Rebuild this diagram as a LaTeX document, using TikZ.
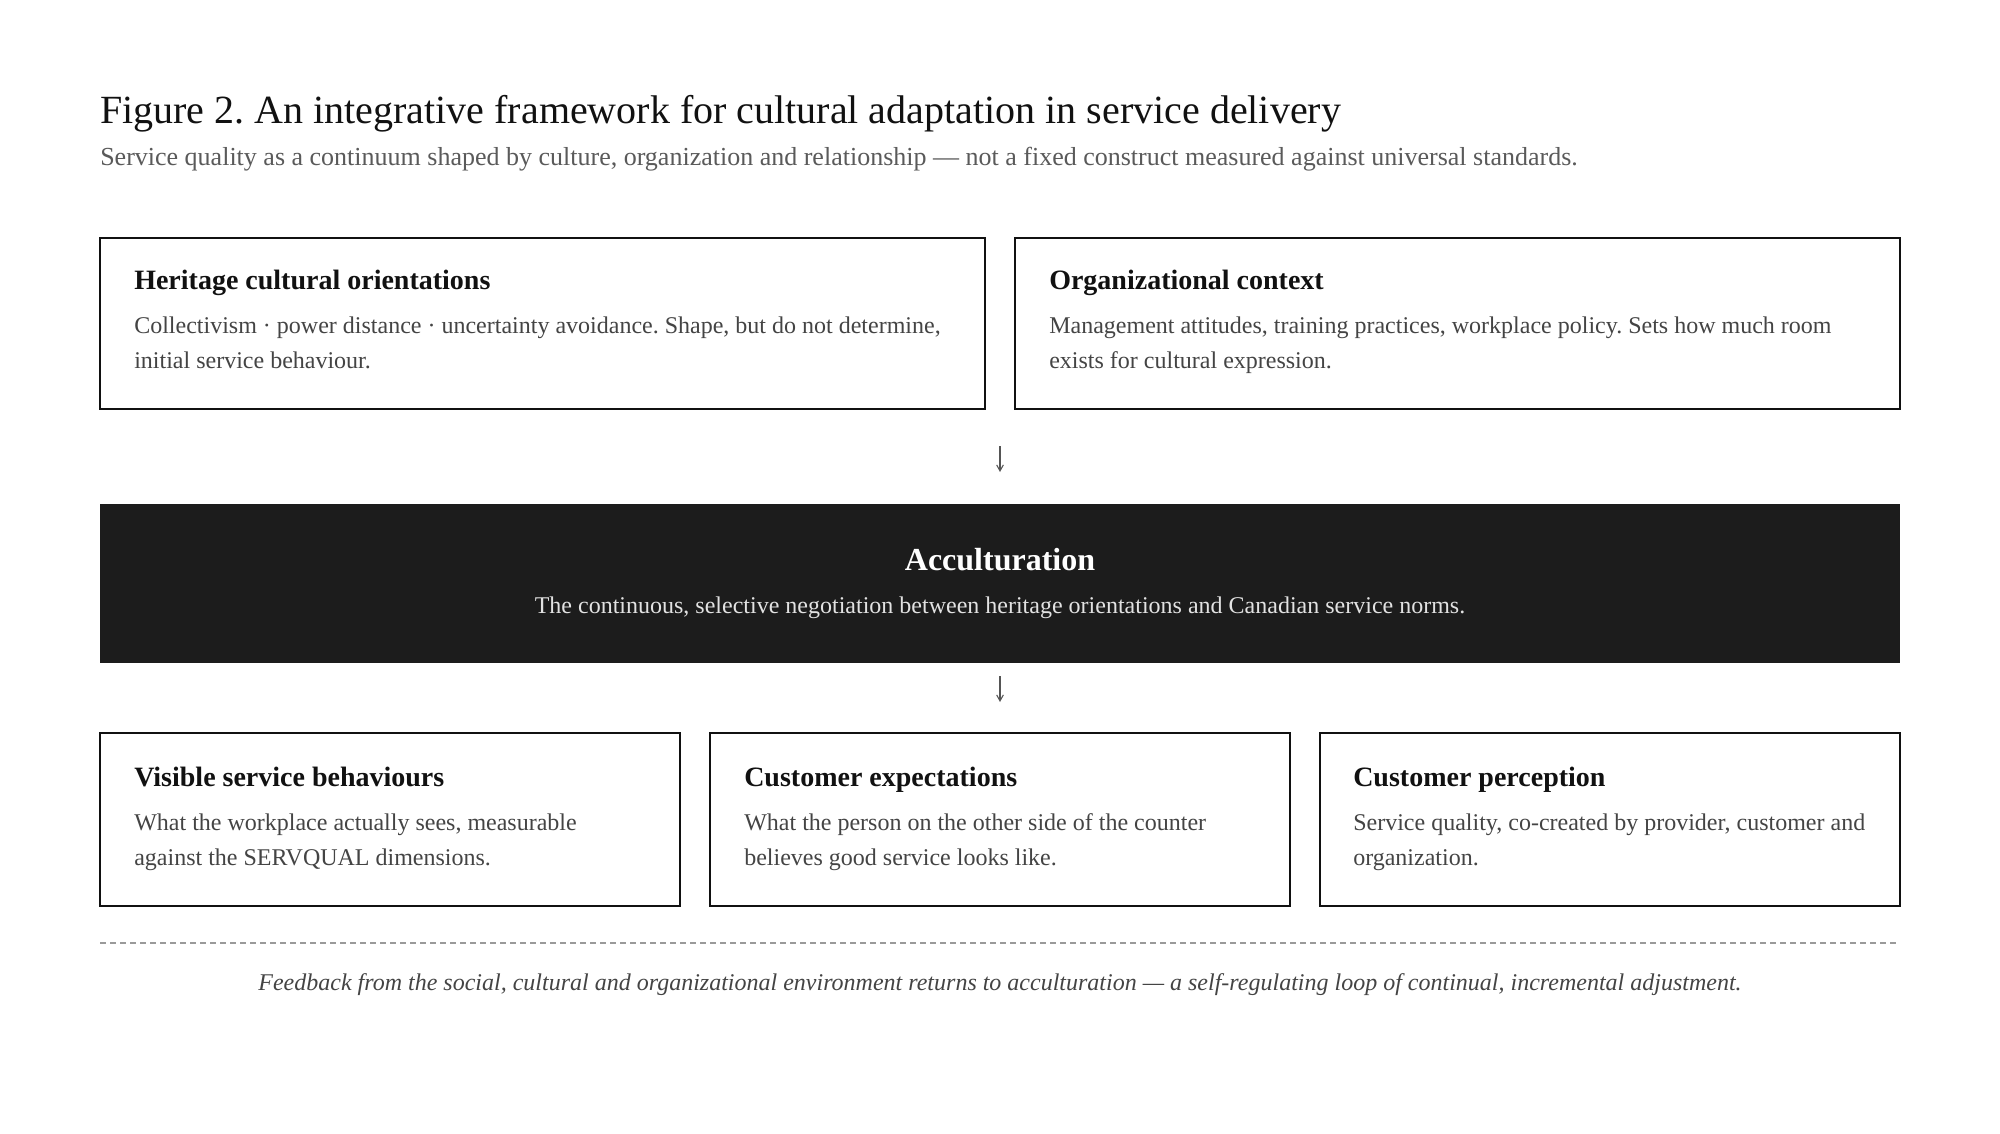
\documentclass[tikz,border=0pt]{standalone}
\usepackage{fontspec}
\setmainfont{Liberation Serif}
\frenchspacing
\usetikzlibrary{arrows.meta}
\definecolor{ink}{HTML}{111111}
\definecolor{bodygray}{HTML}{444444}
\definecolor{subgray}{HTML}{5A5A5A}
\definecolor{darkfill}{HTML}{1C1C1C}
\definecolor{lightgray}{HTML}{E2E2E2}
\definecolor{dashgray}{HTML}{9A9A9A}
\definecolor{arrowgray}{HTML}{555555}
\newcommand\bodytxt[2]{\parbox[t]{#1}{\raggedright\fontsize{18pt}{26.25pt}\selectfont #2}}
\tikzset{
  framebox/.style={draw=ink, line width=1.5pt, fill=white, inner sep=0pt, outer sep=0pt, anchor=north west},
  darkbox/.style={fill=darkfill, draw=none, inner sep=0pt, outer sep=0pt, anchor=north west},
  boxtitle/.style={font=\fontsize{21pt}{25pt}\selectfont\bfseries, text=ink, anchor=base west, inner sep=0pt},
  boxbody/.style={text=bodygray, anchor=base west, inner sep=0pt},
  flowarrow/.style={draw=arrowgray, line width=0.8pt, -{Straight Barb[length=4.5pt,width=5pt]}},
}
\begin{document}
\begin{tikzpicture}[x=0.75pt,y=-0.75pt]
\useasboundingbox[fill=white] (0,0) rectangle (2000,1134);

% heading
\node[anchor=base west, inner sep=0pt, text=ink, font=\fontsize{30pt}{36pt}\selectfont] (title) at (100,124)
  {Figure 2. An integrative framework for cultural adaptation in service delivery};
\node[anchor=base west, inner sep=0pt, text=subgray, font=\fontsize{19.5pt}{24pt}\selectfont] (subtitle) at (100,166)
  {Service quality as a continuum shaped by culture, organization and relationship — not a fixed construct measured against universal standards.};

% top boxes
\node[framebox, minimum width=663.75pt, minimum height=128.25pt] (heritage) at (100,238) {};
\node[boxtitle] (heritageT) at (134,290) {Heritage cultural orientations};
\node[boxbody] (heritageB) at (134,334) {\bodytxt{640pt}{Collectivism · power distance · uncertainty avoidance. Shape, but do not determine,\\ initial service behaviour.}};

\node[framebox, minimum width=663.75pt, minimum height=128.25pt] (org) at (1015,238) {};
\node[boxtitle] (orgT) at (1049,290) {Organizational context};
\node[boxbody] (orgB) at (1049,334) {\bodytxt{640pt}{Management attitudes, training practices, workplace policy. Sets how much room\\ exists for cultural expression.}};

% arrow 1
\coordinate (a1s) at (1000,446);
\coordinate (a1e) at (1000,472);
\draw[flowarrow] (a1s) -- (a1e);

% acculturation
\node[darkbox, minimum width=1350pt, minimum height=119.25pt] (acc) at (100,504) {};
\node[anchor=base, inner sep=0pt, text=white, font=\fontsize{24pt}{28pt}\selectfont\bfseries] (accT) at (1000,570) {Acculturation};
\node[anchor=base, inner sep=0pt, text=lightgray, font=\fontsize{18pt}{22pt}\selectfont] (accB) at (1000,613)
  {The continuous, selective negotiation between heritage orientations and Canadian service norms.};

% arrow 2
\coordinate (a2s) at (1000,676);
\coordinate (a2e) at (1000,702);
\draw[flowarrow] (a2s) -- (a2e);

% bottom boxes
\node[framebox, minimum width=435pt, minimum height=129.75pt] (vis) at (100,733) {};
\node[boxtitle] (visT) at (134,786) {Visible service behaviours};
\node[boxbody] (visB) at (134,830) {\bodytxt{420pt}{What the workplace actually sees, measurable\\ against the SERVQUAL dimensions.}};

\node[framebox, minimum width=435pt, minimum height=129.75pt] (exp) at (710,733) {};
\node[boxtitle] (expT) at (744,786) {Customer expectations};
\node[boxbody] (expB) at (744,830) {\bodytxt{420pt}{What the person on the other side of the counter\\ believes good service looks like.}};

\node[framebox, minimum width=435pt, minimum height=129.75pt] (perc) at (1320,733) {};
\node[boxtitle] (percT) at (1353,786) {Customer perception};
\node[boxbody] (percB) at (1353,830) {\bodytxt{420pt}{Service quality, co-created by provider, customer and\\ organization.}};

% dashed separator
\coordinate (dl) at (100,943);
\coordinate (dr) at (1900,943);
\draw[dashgray, line width=1.1pt, dash pattern=on 4.5pt off 3pt] (dl) -- (dr);

% footnote
\node[anchor=base, inner sep=0pt, text=bodygray, font=\fontsize{18pt}{22pt}\selectfont\itshape] (foot) at (1000,990)
  {Feedback from the social, cultural and organizational environment returns to acculturation — a self-regulating loop of continual, incremental adjustment.};
\end{tikzpicture}
\end{document}
